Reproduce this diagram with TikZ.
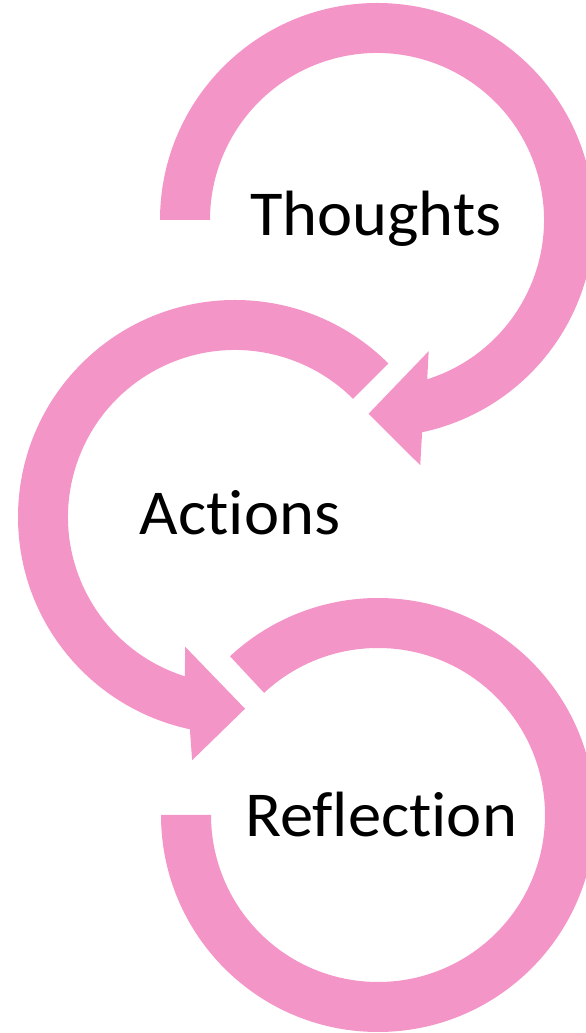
\documentclass[tikz,border=0pt]{standalone}
\usepackage{fontspec}
\setmainfont{Carlito}[Ligatures=NoCommon, FakeStretch=1.04]
\definecolor{cyclePink}{RGB}{244,149,200}

\begin{document}
\begin{tikzpicture}[x=1pt, y=1pt,
    cyclelabel/.style={anchor=base, inner sep=0pt, font=\fontsize{64}{64}\selectfont}]

\useasboundingbox (0,0) rectangle (586,1033);

% Ring centres
\coordinate (cThoughts) at (377,813);
\coordinate (cActions) at (235,516);
\coordinate (cReflection) at (378,218);

% Thoughts ring, clockwise into its arrow
\fill [cyclePink, shift={(cThoughts)}]
    (180:217) arc [start angle=180, end angle=-78, radius=217]
    -- (-80:249) -- (-92.5:194) -- (-68.5:141) -- (-72.5:167)
    arc [start angle=-72.5, end angle=180, radius=167] -- cycle;

% Actions ring, counter-clockwise into its arrow
\fill [cyclePink, shift={(cActions)}]
    (45:217) arc [start angle=45, end angle=258, radius=217]
    -- (260:247) -- (273:192) -- (249:139) -- (252.5:167)
    arc [start angle=252.5, end angle=45, radius=167] -- cycle;

% Reflection ring, no arrow
\fill [cyclePink, shift={(cReflection)}]
    (180:217) arc [start angle=180, end angle=493, radius=217]
    -- (133:167) arc [start angle=133, end angle=-180, radius=167] -- cycle;

% Labels
\node (thoughts) at (376,797) [cyclelabel] {Thoughts};
\node (actions) at (240,498) [cyclelabel] {Actions};
\node (reflection) at (381,196) [cyclelabel] {Reflection};

\end{tikzpicture}
\end{document}
